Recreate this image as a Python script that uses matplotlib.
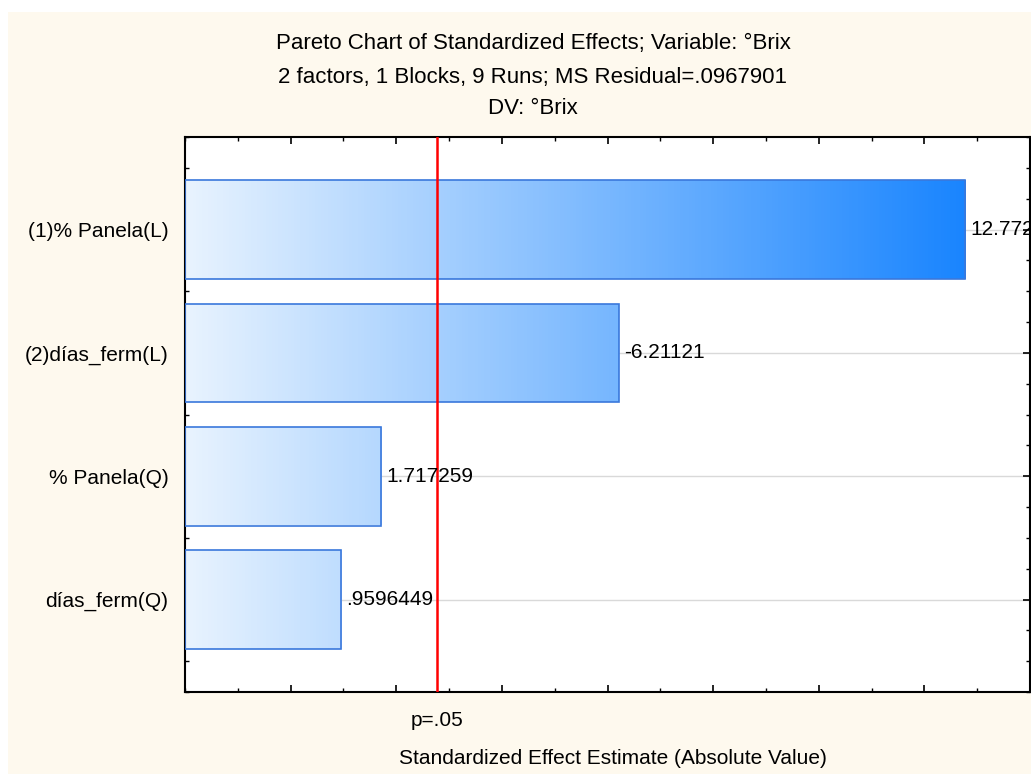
import numpy as np
import matplotlib.pyplot as plt
from matplotlib.colors import LinearSegmentedColormap
from matplotlib.patches import Rectangle
from matplotlib.ticker import MultipleLocator

plt.rcParams['font.family'] = ['Liberation Sans', 'DejaVu Sans']

# effects, top to bottom
factors = ['(1)% Panela(L)', '(2)días_ferm(L)', '% Panela(Q)', 'días_ferm(Q)']
effects = [12.7724, -6.21121, 1.717259, 0.9596449]
labels = ['12.7724', '-6.21121', '1.717259', '.9596449']
t_crit = 2.776445  # p=.05, df=4

xmin, xmax = -2, 14
cream = '#FEF9EE'

fig = plt.figure(figsize=(10.31, 7.74), dpi=100, facecolor='white')
fig.patches.append(Rectangle((8 / 1031, 0), 1, 1 - 12 / 774, transform=fig.transFigure,
                             facecolor=cream, edgecolor='none', zorder=-10))

ax = fig.add_axes([185 / 1031, 1 - 692 / 774, 845 / 1031, 555 / 774])
ax.set_facecolor('white')

ypos = np.arange(len(factors), 0, -1)
absval = np.abs(effects)

cmap = LinearSegmentedColormap.from_list('blu', ['#E8F3FE', '#1884FF'])
grad = np.linspace(0, 1, 256).reshape(1, -1)

for y, v, lab in zip(ypos, absval, labels):
    ax.axhline(y, color='#D9D9D9', lw=1, zorder=1)
    bar = ax.barh(y, v - xmin, left=xmin, height=0.8, color='none',
                  edgecolor='#3A78DC', lw=1.2, zorder=3)[0]
    im = ax.imshow(grad, cmap=cmap, aspect='auto', extent=[xmin, 12.9, y - 0.4, y + 0.4],
                   zorder=2, interpolation='bilinear')
    im.set_clip_path(bar)
    ax.text(v + 0.1, y, lab, va='center', ha='left', fontsize=15, clip_on=False, zorder=5)

ax.axvline(t_crit, color='#FF0000', lw=1.8, zorder=4)

ax.set_xlim(xmin, xmax)
ax.set_ylim(0.25, 4.75)
ax.set_yticks(ypos)
ax.set_yticklabels(factors, fontsize=15)
ax.yaxis.set_minor_locator(MultipleLocator(0.25))
ax.set_xticks(np.arange(0, 15, 2))
ax.set_xticklabels([])
ax.xaxis.set_minor_locator(MultipleLocator(1))
ax.tick_params(which='both', direction='in', top=True, right=True, color='black')
ax.tick_params(which='major', length=5, width=1.2, pad=12)
ax.tick_params(which='minor', length=3, width=1)
for s in ax.spines.values():
    s.set_linewidth(1.5)

ax.text(t_crit, -0.035, 'p=.05', transform=ax.get_xaxis_transform(), ha='center', va='top',
        fontsize=15)
fig.text(613 / 1031, 1 - 758 / 774, 'Standardized Effect Estimate (Absolute Value)',
         ha='center', va='center', fontsize=15)

titles = ['Pareto Chart of Standardized Effects; Variable: °Brix',
          '2 factors, 1 Blocks, 9 Runs; MS Residual=.0967901',
          'DV: °Brix']
for t, yy in zip(titles, [44, 77, 109]):
    fig.text(533 / 1031, 1 - yy / 774, t, ha='center', va='center', fontsize=16)

plt.savefig('out.png', dpi=100, facecolor=fig.get_facecolor())
